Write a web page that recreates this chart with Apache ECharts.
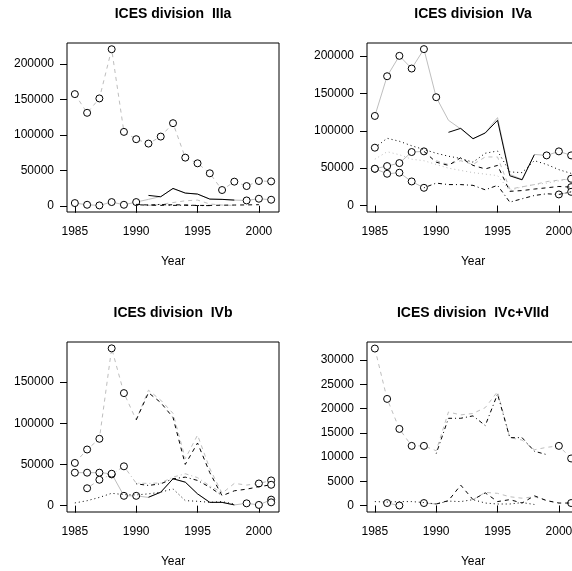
<!DOCTYPE html>
<html>
<head>
<meta charset="utf-8">
<script src="https://cdn.jsdelivr.net/npm/echarts@6/dist/echarts.min.js"></script>
<style>
  html, body { margin: 0; padding: 0; background: #fff; }
  #chart { width: 572px; height: 571px; }
</style>
</head>
<body>
<div id="chart"></div>
<script>
// ---- data -------------------------------------------------------------
const years = [1985, 1986, 1987, 1988, 1989, 1990, 1991, 1992, 1993,
               1994, 1995, 1996, 1997, 1998, 1999, 2000, 2001];
const yearTicks = [1985, 1990, 1995, 2000];

const panelTitles = ['ICES division  IIIa', 'ICES division  IVa',
                     'ICES division  IVb', 'ICES division  IVc+VIId'];
const yTicksIIIa = [0, 50000, 100000, 150000, 200000];
const yTicksIVa  = [0, 50000, 100000, 150000, 200000];
const yTicksIVb  = [0, 50000, 100000, 150000];
const yTicksIVc  = [0, 5000, 10000, 15000, 20000, 25000, 30000];

// IIIa
const iiiaGreyDash   = [157500, 131100, 151400, 220800, 104200, 93900, 87700, 97600, 116500, 67900, 59900, 45800, 22200, 34000, 27800, 34900, 34400];
const iiiaGreyDashMarks = years;
const iiiaGreySolid  = [3800, 1400, 500, 5200, 1400, 5200, 9000, 13000, 24000, 17900, 16500, 9400, 9000, 8000, 7500, 9900, 8500];
const iiiaGreySolidMarks = [1985, 1986, 1987, 1988, 1989, 1990, 1999, 2000, 2001];
const iiiaBlackSolid = [null, null, null, null, null, null, 14600, 12700, 24500, 17900, 16500, 9400, 9000, 8000, null, null, null];
const iiiaBlackDash  = [null, null, null, null, null, 2000, 1000, 500, 1500, 1000, 500, 500, 800, 1000, 1200, 1500, null];
const iiiaGreyDash2  = [null, null, null, null, null, null, 500, 2000, 4500, 7000, 8000, 2500, 1000, 500, null, null, null];
const iiiaBlackDashDot = [null, null, null, null, null, 1500, 800, 2000, 500, 800, 300, 200, null, null, null, null, null];

// IVa
const ivaGreySolid   = [119900, 173100, 200400, 183400, 209400, 145000, 114100, 102500, 89000, 97500, 117700, 41600, 35000, 68400, 67100, 72500, 67100];
const ivaGreySolidMarks = [1985, 1986, 1987, 1988, 1989, 1990, 1999, 2000, 2001];
const ivaBlackSolid  = [null, null, null, null, null, null, 98000, 103300, 89500, 97100, 114100, 39800, 34400, 68000, null, null, null];
const ivaBlackDot    = [77400, 90000, 86000, 80000, 75000, 70000, 66000, 63000, 58000, 70000, 73000, 45000, 44000, 60000, 55000, 48000, 43000];
const ivaBlackDotMarks = [1985];
const ivaGreyDot     = [62000, 72000, 68000, 62000, 60000, 55000, 50000, 47000, 44000, 42000, 40000, 20000, 25000, 28000, 30000, 33000, 36000];
const ivaGreyDash    = [null, null, null, null, null, 60000, 55000, 60000, 55000, 65000, 65000, 22000, 25000, 28000, 32000, 34000, 35800];
const ivaGreyDashMarks = [2001];
const ivaMidGrey     = [49200, 52800, 56800, 71600, 72500, null, null, null, null, null, null, null, null, null, null, null, 24600];
const ivaMidGreyMarks = years;
const ivaBlackDash   = [null, null, null, null, 72500, 58000, 53700, 64000, 53700, 49000, 53700, 19000, 20000, 22000, 23700, 25500, 24600];
const ivaLowGrey     = [49200, 42500, 43900, 32200, 23700, null, null, null, null, null, null, null, null, null, null, 14800, 18300];
const ivaLowGreyMarks = years;
const ivaBlackDashDot = [null, null, null, null, 23700, 30000, 28000, 28000, 27000, 21000, 27000, 4500, 9000, 13400, 15700, 14800, 18300];

// IVb
const ivbGreyDash    = [51800, 68100, 81100, 190800, 136500, 104000, 140000, 128000, 112000, 57000, 85600, 45000, 15000, 27000, 25000, 26900, 30600];
const ivbGreyDashMarks = [1985, 1986, 1987, 1988, 1989, 2000, 2001];
const ivbBlackDash   = [null, null, null, null, null, 104000, 137000, 125000, 107000, 50000, 76000, 40000, 12000, 18000, 20000, 23000, 25300];
const ivbBlackDashMarks = [2001];
const ivbGreySolid   = [40000, 40000, 40000, 38700, 11900, 11900, 10000, 16300, 32600, 28500, 14300, 4000, 4000, 900, 2800, 900, 7300];
const ivbGreySolidMarks = [1985, 1986, 1987, 1988, 1989, 1990, 1999, 2000, 2001];
const ivbBlackSolid  = [null, null, null, null, null, null, 10200, 16300, 32600, 28500, 14300, 4000, 4000, 900, null, null, null];
const ivbGreyDashDot = [null, 21100, 31400, 37900, 47700, 27300, 27000, 27500, 34600, 38700, 34000, 24000, 16000, null, null, null, null];
const ivbGreyDashDotMarks = [1986, 1987, 1988, 1989];
const ivbBlackDashDot = [null, null, null, null, null, 26500, 24500, 26500, 32600, 34600, 30600, 22400, 12200, null, null, null, null];
const ivbBlackDot    = [3300, 6000, 10000, 15000, 13400, 13000, 14300, 16300, 20400, 6100, 5300, 4000, 4900, 2000, null, null, null];
const ivbLowTail     = [null, null, null, null, null, null, null, null, null, null, null, null, null, null, null, null, 4000];
const ivbLowTailMarks = [2001];

// IVc+VIId
const ivcGreyDash    = [32400, 22000, 15800, 12300, 12300, 11300, 19300, 18700, 19000, 20200, 23500, 14000, 13500, 11500, 12000, 12300, 9700];
const ivcGreyDashMarks = [1985, 1986, 1987, 1988, 1989, 2000, 2001];
const ivcBlackDashDot = [null, null, null, null, null, 10700, 18000, 18000, 18500, 16500, 23000, 14000, 14000, 11200, 10500, null, null];
const ivcLowGrey     = [null, 500, 0, null, 500, 300, null, null, null, null, null, null, null, null, null, null, 500];
const ivcLowGreyMarks = [1986, 1987, 1989, 2001];
const ivcBlackDot    = [800, 700, 800, 800, 600, 300, 900, 800, 1200, 500, 300, 300, 600, 200, null, null, null];
const ivcBlackDash   = [null, null, null, null, null, 300, 1000, 4200, 1200, 2600, 800, 1200, 500, 2000, 1000, 500, 500];
const ivcGreyDashLow = [null, null, null, null, null, null, null, null, 1200, 2700, 2500, 1800, 1500, 1800, 1000, 500, null];

// ---- styling -----------------------------------------------------------
const FONT = 'Liberation Sans, Arial, Helvetica, sans-serif';
const GREY = '#bebebe';
const BLACK = '#000000';
const SOLID = 'solid';
const DASHED = [4, 4];
const DOTTED = [1, 3];
const DOTDASH = [1, 3, 4, 3];

// plot boxes (pixels) for the 2x2 layout; the right column runs past the page edge
const boxes = [
  { left: 67,  top: 43,  width: 212, height: 169 },
  { left: 367, top: 43,  width: 212, height: 169 },
  { left: 67,  top: 342, width: 212, height: 170 },
  { left: 367, top: 342, width: 212, height: 170 }
];
const yRanges = [[-8800, 229600], [-8700, 217600], [-7700, 198500], [-1350, 33750]];
const yTickSets = [yTicksIIIa, yTicksIVa, yTicksIVb, yTicksIVc];

function line(panel, values, color, dash, marks) {
  const marked = marks || [];
  return {
    type: 'line',
    xAxisIndex: panel,
    yAxisIndex: panel,
    symbol: 'circle',
    symbolSize: 7,
    showSymbol: true,
    showAllSymbol: true,
    connectNulls: false,
    silent: true,
    clip: true,
    z: color === BLACK ? 3 : 2,
    lineStyle: { color: color, width: 1, type: dash },
    itemStyle: { color: '#ffffff', borderColor: BLACK, borderWidth: 1 },
    data: years.map(function (yr, i) {
      const v = values[i];
      if (v === null || v === undefined) return [yr, '-'];
      return { value: [yr, v], symbol: marked.indexOf(yr) >= 0 ? 'circle' : 'none' };
    })
  };
}

const series = [
  // IIIa
  line(0, iiiaGreyDash, GREY, DASHED, iiiaGreyDashMarks),
  line(0, iiiaGreyDash2, GREY, DASHED),
  line(0, iiiaGreySolid, GREY, SOLID, iiiaGreySolidMarks),
  line(0, iiiaBlackSolid, BLACK, SOLID),
  line(0, iiiaBlackDash, BLACK, DASHED),
  line(0, iiiaBlackDashDot, BLACK, DOTDASH),
  // IVa
  line(1, ivaGreyDot, GREY, DOTTED),
  line(1, ivaGreyDash, GREY, DASHED, ivaGreyDashMarks),
  line(1, ivaBlackDot, BLACK, DOTTED, ivaBlackDotMarks),
  line(1, ivaBlackDash, BLACK, DASHED),
  line(1, ivaBlackDashDot, BLACK, DOTDASH),
  line(1, ivaGreySolid, GREY, SOLID, ivaGreySolidMarks),
  line(1, ivaBlackSolid, BLACK, SOLID),
  line(1, ivaMidGrey, GREY, SOLID, ivaMidGreyMarks),
  line(1, ivaLowGrey, GREY, SOLID, ivaLowGreyMarks),
  // IVb
  line(2, ivbGreyDash, GREY, DASHED, ivbGreyDashMarks),
  line(2, ivbBlackDash, BLACK, DASHED, ivbBlackDashMarks),
  line(2, ivbGreyDashDot, GREY, DOTDASH, ivbGreyDashDotMarks),
  line(2, ivbBlackDashDot, BLACK, DOTDASH),
  line(2, ivbBlackDot, BLACK, DOTTED),
  line(2, ivbGreySolid, GREY, SOLID, ivbGreySolidMarks),
  line(2, ivbBlackSolid, BLACK, SOLID),
  line(2, ivbLowTail, GREY, SOLID, ivbLowTailMarks),
  // IVc+VIId
  line(3, ivcGreyDash, GREY, DASHED, ivcGreyDashMarks),
  line(3, ivcBlackDashDot, BLACK, DOTDASH),
  line(3, ivcGreyDashLow, GREY, DASHED),
  line(3, ivcBlackDot, BLACK, DOTTED),
  line(3, ivcBlackDash, BLACK, DASHED),
  line(3, ivcLowGrey, GREY, SOLID, ivcLowGreyMarks)
];

const labelStyle = { color: BLACK, fontSize: 12, fontFamily: FONT };

const option = {
  animation: false,
  backgroundColor: '#ffffff',
  title: boxes.map(function (b, i) {
    return {
      text: panelTitles[i],
      left: b.left + b.width / 2,
      top: b.top - 36,
      textAlign: 'center',
      padding: 0,
      textStyle: { color: BLACK, fontSize: 14, fontWeight: 'bold', fontFamily: FONT }
    };
  }),
  grid: boxes.map(function (b) {
    return {
      left: b.left, top: b.top, width: b.width, height: b.height,
      show: true, borderColor: BLACK, borderWidth: 1, backgroundColor: 'transparent',
      containLabel: false,
      outerBoundsMode: 'none'
    };
  }),
  xAxis: boxes.map(function (b, i) {
    return {
      type: 'value', gridIndex: i, min: 1984.36, max: 2001.64,
      name: 'Year', nameLocation: 'middle', nameGap: 44,
      nameTextStyle: labelStyle,
      axisLine: { show: false },
      splitLine: { show: false },
      axisTick: { show: true, length: 7, customValues: yearTicks, lineStyle: { color: BLACK } },
      axisLabel: Object.assign({ margin: 14, customValues: yearTicks, hideOverlap: false,
        formatter: function (v) { return String(v); } }, labelStyle)
    };
  }),
  yAxis: boxes.map(function (b, i) {
    return {
      type: 'value', gridIndex: i, min: yRanges[i][0], max: yRanges[i][1],
      axisLine: { show: false },
      splitLine: { show: false },
      axisTick: { show: true, length: 7, customValues: yTickSets[i], lineStyle: { color: BLACK } },
      axisLabel: Object.assign({ margin: 13, customValues: yTickSets[i],
        formatter: function (v) { return String(v); } }, labelStyle)
    };
  }),
  series: series
};

const chart = echarts.init(document.getElementById('chart'), null, { renderer: 'canvas' });
chart.setOption(option);
</script>
</body>
</html>
